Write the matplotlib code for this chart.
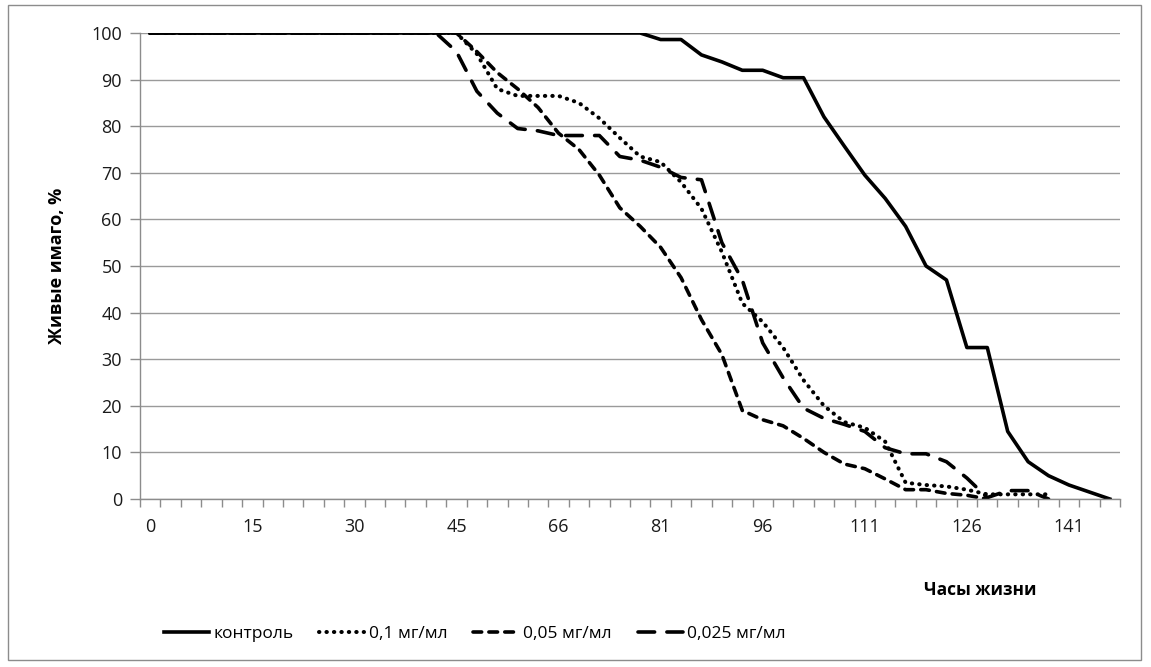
import numpy as np
import matplotlib.pyplot as plt
from matplotlib.patches import Rectangle

plt.rcParams['font.family'] = ['Open Sans', 'DejaVu Sans']

# -------------------------
# Data (category axis: hours)
# -------------------------

hours = list(range(0, 46, 3)) + [48, 51, 54, 60, 66] + list(range(69, 148, 3))

control = [100] * 25 + [98.6, 98.6, 95.3, 93.8, 92, 92, 90.4, 90.4, 82, 75.7,
                        69.5, 64.5, 58.5, 50, 47, 32.5, 32.5, 14.5, 8, 5, 3, 1.5, 0]

dose_01 = [100] * 16 + [95.5, 88, 86.5, 86.5, 86.5, 85, 81.7, 77.5, 73.5, 72.3,
                        68, 62.3, 53, 42, 38, 32.5, 25.5, 20, 16.5, 15.3, 12.3,
                        3.5, 3, 2.7, 2, 1, 1, 1, 1] + [np.nan] * 3

dose_005 = [100] * 16 + [96, 91.5, 88, 84, 78.5, 75, 69.5, 62.5, 58.5, 54, 47.5,
                         38.5, 31, 19, 17, 15.7, 13, 10, 7.5, 6.5, 4.3, 2, 2,
                         1.2, 0.8, 0] + [np.nan] * 6

dose_0025 = [100] * 15 + [96, 87.5, 82.8, 79.5, 79, 78, 78, 78, 73.5, 72.7, 71.2,
                          69, 68.5, 55, 47, 33.5, 26, 19.5, 17.3, 16, 14.5, 11,
                          9.7, 9.7, 8, 4.5, 0.3, 1.8, 1.8, 0] + [np.nan] * 3

labels = ['контроль', '0,1 мг/мл', '0,05 мг/мл', '0,025 мг/мл']

# -------------------------
# Plot
# -------------------------

fig = plt.figure(figsize=(11.51, 6.67), dpi=100)
ax = fig.add_axes([140 / 1151, 1 - 499 / 667, 980 / 1151, 466 / 667])

x = np.arange(len(hours))
lw = 2.6

ax.plot(x, control, color='black', linewidth=lw, solid_joinstyle='round',
        label=labels[0])
ax.plot(x, dose_01, color='black', linewidth=2.9, linestyle=(0, (0.1, 1.75)),
        dash_capstyle='round', label=labels[1])
ax.plot(x, dose_005, color='black', linewidth=lw, linestyle=(0, (2.4, 2.0)),
        dash_capstyle='round', label=labels[2])
ax.plot(x, dose_0025, color='black', linewidth=lw, linestyle=(0, (4.6, 3.4)),
        dash_capstyle='round', label=labels[3])

ax.set_xlim(-0.5, len(hours) - 0.5)
ax.set_ylim(0, 100)

ax.set_xticks(x[::5])
ax.set_xticklabels([str(hours[i]) for i in x[::5]])
ax.set_xticks(np.arange(-0.5, len(hours)), minor=True)
ax.tick_params(axis='x', which='major', length=0, pad=14, labelsize=13,
               colors='#1a1a1a')
ax.tick_params(axis='x', which='minor', length=6, color='#8c8c8c', width=1)

ax.set_yticks(np.arange(0, 101, 10))
ax.tick_params(axis='y', length=7, color='#8c8c8c', width=1, pad=6,
               labelsize=13, labelcolor='#1a1a1a')

ax.grid(axis='y', color='#9a9a9a', linewidth=1)
ax.set_axisbelow(True)

for side in ['top', 'right']:
    ax.spines[side].set_visible(False)
for side in ['left', 'bottom']:
    ax.spines[side].set_color('#8c8c8c')
    ax.spines[side].set_linewidth(1)

ax.set_ylabel('Живые имаго, %', fontsize=13, fontweight='bold', labelpad=18)
fig.text(980 / 1151, 1 - 590 / 667, 'Часы жизни', fontsize=12.5,
         fontweight='bold', ha='center', va='center')

fig.legend(loc='center left', bbox_to_anchor=(148 / 1151, 1 - 634 / 667),
           ncol=4, frameon=False, fontsize=12.5, handlelength=2.6,
           columnspacing=1.5, handletextpad=0.25)

fig.patches.append(Rectangle((8 / 1151, 1 - 660 / 667), 1133 / 1151, 655 / 667,
                             transform=fig.transFigure, fill=False,
                             edgecolor='#8c8c8c', linewidth=1))

plt.savefig('out.png', dpi=100)
